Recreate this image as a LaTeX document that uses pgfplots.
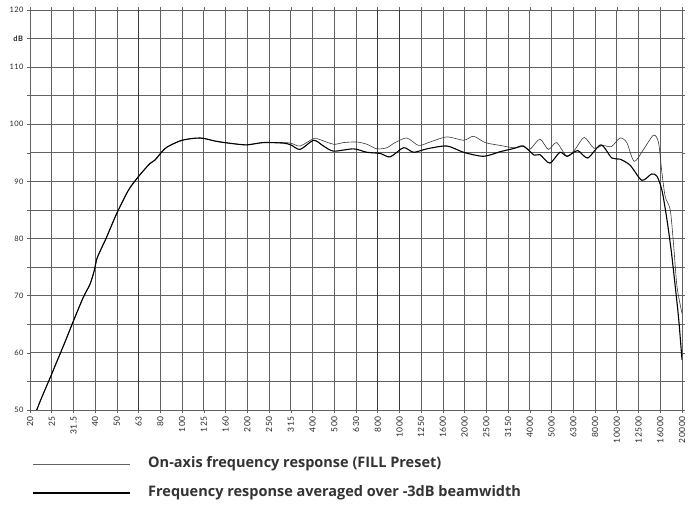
\documentclass[border=0pt]{standalone}
\usepackage{pgfplots}
\pgfplotsset{compat=1.18}
\usepackage{fontspec}
\setmainfont{Lato}
\newfontfamily\tickfont[LetterSpace=6]{Lato}
\newfontfamily\legfont{Open Sans}
\begin{document}
\begin{tikzpicture}
\path[use as bounding box] (-30pt,-103pt) rectangle (658pt,410pt);
\begin{axis}[
  at={(0pt,0pt)}, anchor=south west,
  width=652pt, height=400pt, scale only axis,
  xmin=0, xmax=30, ymin=50, ymax=120,
  xtick={0,...,30},
  xticklabels={20,25,31.5,40,50,63,80,100,125,160,200,250,315,400,500,630,800,1000,1250,1600,2000,2500,3150,4000,5000,6300,8000,10000,12500,16000,20000},
  ytick={50,55,...,120},
  yticklabels={50,,60,,70,,80,,90,,100,,110,\textbf{dB},120},
  grid=major,
  grid style={draw=black!62, line width=0.8pt},
  axis line style={draw=black!62, line width=0.8pt},
  tick align=outside,
  major tick length=3pt,
  tick style={draw=black!62, line width=0.6pt},
  extra x ticks={5,16,17},
  extra x tick labels={},
  extra x tick style={grid style={draw=black!78, line width=0.8pt}, major tick length=0pt},
  x tick label style={rotate=90, anchor=east, font=\tickfont\fontsize{8.5}{9}\selectfont, text=black!85},
  y tick label style={font=\tickfont\fontsize{7.5}{8}\selectfont, text=black!85},
  /pgf/number format/assume math mode=true,
]
% On-axis frequency response (FILL preset)
\addplot[black!78, line width=0.6pt, smooth, tension=0.45] coordinates {
(0.31,50) (0.54,52.2) (1.0,56.3) (1.15,57.7) (1.6,61.8) (2.0,65.6) (2.45,69.7) (2.76,72.0) (2.95,74.3) (3.08,76.5) (3.3,78.4)
(3.52,80.2) (3.98,84.3) (4.52,88.4) (4.98,90.8) (5.51,93.1) (5.74,93.7) (6.05,95.1) (6.3,96.0) (6.99,97.2)
(7.83,97.6) (8.6,97.0) (9.36,96.6) (9.98,96.4) (10.74,96.8) (11.66,96.8)
(12.0,96.7) (12.43,96.2) (13.05,97.5) (13.35,97.3) (13.97,96.5) (14.43,96.8) (15.04,96.9) (15.5,96.5)
(15.96,95.7) (16.42,95.9) (16.8,96.8) (17.34,97.6) (17.88,96.3) (18.41,96.9) (19.18,97.8) (19.95,97.2)
(20.41,97.9) (20.94,96.8) (21.63,96.3) (22.25,95.9) (22.7,96.1) (23.0,95.6) (23.46,97.4) (23.85,95.6)
(24.23,96.8) (24.7,94.4) (25.08,95.6) (25.5,97.7) (25.95,95.8) (26.35,96.3) (26.75,96.1) (27.15,97.6)
(27.46,96.8) (27.8,93.5) (28.23,95.6) (28.69,98.1) (28.92,96.8) (29.08,91.4) (29.23,87.3) (29.46,85.0)
(29.62,78.6) (29.77,71.6) (30.0,66.9)
};
% Frequency response averaged over -3dB beamwidth
\addplot[black, line width=1.1pt, smooth, tension=0.45] coordinates {
(0.31,50) (0.54,52.2) (1.0,56.3) (1.15,57.7) (1.6,61.8) (2.0,65.6) (2.45,69.7) (2.76,72.0) (2.95,74.3) (3.08,76.5) (3.3,78.4)
(3.52,80.2) (3.98,84.3) (4.52,88.4) (4.98,90.8) (5.51,93.1) (5.74,93.7) (6.05,95.1) (6.3,96.0) (6.99,97.2)
(7.83,97.6) (8.6,97.0) (9.36,96.6) (9.98,96.4) (10.74,96.8) (11.66,96.7)
(12.0,96.4) (12.43,95.6) (13.05,97.2) (13.5,96.2) (13.97,95.3) (14.89,95.7) (15.5,95.1) (16.11,94.9)
(16.57,94.3) (17.19,95.9) (17.65,95.1) (18.26,95.7) (19.18,96.2) (19.95,95.1) (20.87,94.4) (21.63,95.2)
(22.3,95.8) (22.7,96.2) (23.2,94.6) (23.46,94.7) (23.92,93.2) (24.38,95.1) (24.72,94.4) (25.2,95.4)
(25.66,94.1) (26.27,96.4) (26.77,94.1) (27.15,93.9) (27.62,92.8) (28.15,90.2) (28.6,91.3) (28.85,90.9)
(29.08,88.4) (29.3,83.5) (29.5,78.0) (29.69,71.6) (29.85,65.8) (30.0,58.8)
};
\end{axis}
\draw[black!62, line width=0.8pt] (3pt,-54pt) -- (100pt,-54pt);
\node[anchor=west, inner sep=0pt, font=\legfont\bfseries\fontsize{14.5}{15}\selectfont, text=black!80] at (118pt,-54pt) {On-axis frequency response (FILL Preset)};
\draw[black, line width=1.4pt] (3pt,-83pt) -- (100pt,-83pt);
\node[anchor=west, inner sep=0pt, font=\legfont\bfseries\fontsize{14.5}{15}\selectfont, text=black!80] at (118pt,-83pt) {Frequency response averaged over -3dB beamwidth};
\end{tikzpicture}
\end{document}
